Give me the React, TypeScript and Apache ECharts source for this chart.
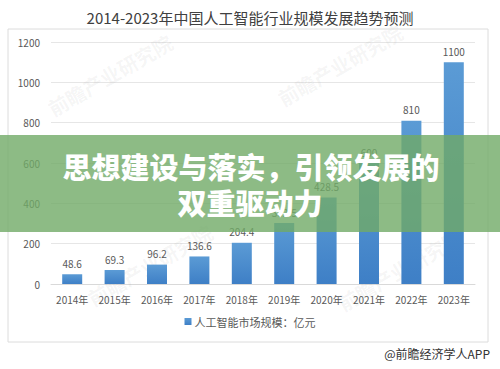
import React, { useEffect, useRef } from "react";
import * as echarts from "echarts";

const titleText = "2014-2023年中国人工智能行业规模发展趋势预测";
const years = ["2014年", "2015年", "2016年", "2017年", "2018年", "2019年", "2020年", "2021年", "2022年", "2023年"];
const marketSize = [48.6, 69.3, 96.2, 136.6, 204.4, 302.5, 428.5, 600, 810, 1100];
const seriesName = "人工智能市场规模：亿元";
const bannerLines = ["思想建设与落实，引领发展的", "双重驱动力"];
const sourceText = "@前瞻经济学人APP";
const watermarkText = "前瞻产业研究院";

export default function App() {
  const ref = useRef<HTMLDivElement>(null);
  useEffect(() => {
    if (!ref.current) return;
    const chart = echarts.init(ref.current, null, { renderer: "svg" });
    const font = "'Noto Sans CJK SC', 'Noto Sans', sans-serif";
    const wm = [
      [110, 75], [340, 65], [400, 270], [150, 265],
    ].map(([x, y]) => ({
      type: "text",
      x,
      y,
      rotation: Math.PI / 6,
      z: 1,
      silent: true,
      style: {
        text: watermarkText,
        fill: "rgba(120,120,120,0.07)",
        font: `bold 20px ${font}`,
        align: "center",
        verticalAlign: "middle",
      },
    }));
    chart.setOption({
      animation: false,
      backgroundColor: "#ffffff",
      textStyle: { fontFamily: font },
      title: {
        text: titleText,
        left: "center",
        top: 5,
        textStyle: { fontSize: 15, fontWeight: "normal", color: "#404040", fontFamily: font },
      },
      grid: { left: 51, right: 25, top: 42, bottom: 85 },
      legend: {
        data: [seriesName],
        bottom: 37,
        left: "center",
        icon: "rect",
        itemWidth: 7,
        itemHeight: 7,
        itemGap: 4,
        textStyle: { fontSize: 11, color: "#595959", fontFamily: font, padding: [0, 0, 0, -2] },
      },
      xAxis: {
        type: "category",
        data: years,
        axisLine: { lineStyle: { color: "#d9d9d9" } },
        axisTick: { show: false },
        axisLabel: { color: "#595959", fontSize: 10, margin: 10, fontFamily: font },
      },
      yAxis: {
        type: "value",
        min: 0,
        max: 1200,
        interval: 200,
        axisLine: { show: false },
        axisTick: { show: false },
        axisLabel: {
          color: "#595959",
          fontSize: 10,
          margin: 11,
          fontFamily: font,
          formatter: (v: number) => String(v),
        },
        splitLine: { lineStyle: { color: "#e6e6e6" } },
      },
      series: [
        {
          name: seriesName,
          type: "bar",
          data: marketSize,
          barWidth: 20,
          itemStyle: {
            color: new echarts.graphic.LinearGradient(0, 0, 0, 1, [
              { offset: 0, color: "#5b9bd5" },
              { offset: 1, color: "#3e7fc6" },
            ]),
          },
          label: {
            show: true,
            position: "top",
            distance: 6,
            color: "#595959",
            fontSize: 10,
            fontFamily: font,
          },
        },
      ],
      graphic: [
        ...wm,
        {
          type: "rect",
          z: 50,
          silent: true,
          shape: { x: 8, y: 29, width: 480, height: 313 },
          style: { fill: "none", stroke: "#dcdcdc", lineWidth: 1 },
        },
        {
          type: "text",
          right: 10,
          top: 347,
          z: 50,
          style: { text: sourceText, fill: "#333333", font: `12px ${font}` },
        },
        {
          type: "rect",
          z: 100,
          shape: { x: 0, y: 135, width: 500, height: 97 },
          style: { fill: "rgba(112,170,102,0.8)" },
        },
        {
          type: "text",
          z: 101,
          x: 251,
          y: 166,
          style: {
            text: bannerLines[0],
            fill: "#ffffff",
            font: `900 29px ${font}`,
            align: "center",
            verticalAlign: "middle",
            shadowColor: "rgba(0,0,0,0.25)",
            shadowBlur: 2,
          },
        },
        {
          type: "text",
          z: 101,
          x: 250,
          y: 202,
          style: {
            text: bannerLines[1],
            fill: "#ffffff",
            font: `900 29px ${font}`,
            align: "center",
            verticalAlign: "middle",
            shadowColor: "rgba(0,0,0,0.25)",
            shadowBlur: 2,
          },
        },
      ],
    });
    return () => chart.dispose();
  }, []);
  return (
    <div
      ref={ref}
      style={{ position: "absolute", left: 0, top: 0, width: 500, height: 369 }}
    />
  );
}
